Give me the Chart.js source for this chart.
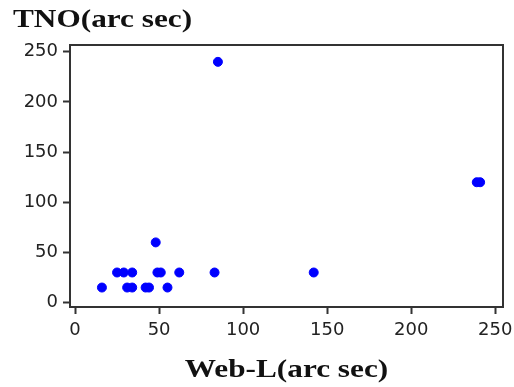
<!DOCTYPE html>
<html>
<head>
<meta charset="utf-8">
<script src="https://cdn.jsdelivr.net/npm/chart.js@4.4.1/dist/chart.umd.min.js"></script>
<style>
  html, body { margin: 0; padding: 0; background: #fff; }
  #wrap { width: 514px; height: 387px; position: relative; }
</style>
</head>
<body>
<div id="wrap"><canvas id="c" width="514" height="387"></canvas></div>
<script>
// Data
const webL = [16, 31, 34, 42, 44, 55, 25, 29, 34, 49, 51, 62, 83, 142, 48, 85, 239, 241];
const tno  = [15, 15, 15, 15, 15, 15, 30, 30, 30, 30, 30, 30, 30, 30, 60, 240, 120, 120];
const xTicks = [0, 50, 100, 150, 200, 250];
const yTicks = [0, 50, 100, 150, 200, 250];
const xTitle = 'Web-L(arc sec)';
const yTitle = 'TNO(arc sec)';

const points = webL.map((x, i) => ({ x: x, y: tno[i] }));

const frameAndTitles = {
  id: 'frameAndTitles',
  beforeDatasetsDraw(chart) {
    const { ctx, chartArea: a } = chart;
    ctx.save();
    ctx.strokeStyle = '#333';
    ctx.lineWidth = 2;
    ctx.strokeRect(a.left, a.top, a.right - a.left, a.bottom - a.top);
    ctx.restore();
  },
  afterDraw(chart) {
    const { ctx, chartArea: a } = chart;
    const sx = 1.25;
    ctx.save();
    ctx.fillStyle = '#111';
    ctx.font = 'bold 25px "Liberation Serif", "Times New Roman", serif';
    ctx.textBaseline = 'alphabetic';
    ctx.save();
    ctx.translate(13, 27);
    ctx.scale(sx, 1);
    ctx.textAlign = 'left';
    ctx.fillText(yTitle, 0, 0);
    ctx.restore();
    ctx.save();
    ctx.translate((a.left + a.right) / 2, 377);
    ctx.scale(sx, 1);
    ctx.textAlign = 'center';
    ctx.fillText(xTitle, 0, 0);
    ctx.restore();
    ctx.restore();
  }
};

const tickFont = { family: '"DejaVu Sans", sans-serif', size: 18 };

new Chart(document.getElementById('c'), {
  type: 'scatter',
  data: {
    datasets: [{
      data: points,
      backgroundColor: '#0000ff',
      borderColor: '#0000ff',
      pointRadius: 4.5,
      pointBorderWidth: 1,
      pointHoverRadius: 4.5
    }]
  },
  options: {
    responsive: false,
    animation: false,
    events: [],
    layout: { padding: { top: 45, right: 11, left: 0, bottom: 0 } },
    plugins: { legend: { display: false }, tooltip: { enabled: false }, title: { display: false } },
    scales: {
      x: {
        type: 'linear',
        min: -3,
        max: 254.6,
        afterFit(s) { s.height = 80; s.paddingLeft = 0; s.paddingRight = 0; },
        afterBuildTicks(s) { s.ticks = xTicks.map(v => ({ value: v })); },
        ticks: { includeBounds: false, font: tickFont, color: '#222', padding: 6, maxRotation: 0 },
        grid: { display: true, drawOnChartArea: false, drawTicks: true, tickLength: 7, tickWidth: 2, tickColor: '#333' },
        border: { display: false }
      },
      y: {
        type: 'linear',
        min: -4.4,
        max: 256.8,
        afterFit(s) { s.width = 70; s.paddingTop = 0; s.paddingBottom = 0; },
        afterBuildTicks(s) { s.ticks = yTicks.map(v => ({ value: v })); },
        ticks: { includeBounds: false, font: tickFont, color: '#222', padding: 5 },
        grid: { display: true, drawOnChartArea: false, drawTicks: true, tickLength: 7, tickWidth: 2, tickColor: '#333' },
        border: { display: false }
      }
    }
  },
  plugins: [frameAndTitles]
});
</script>
</body>
</html>
